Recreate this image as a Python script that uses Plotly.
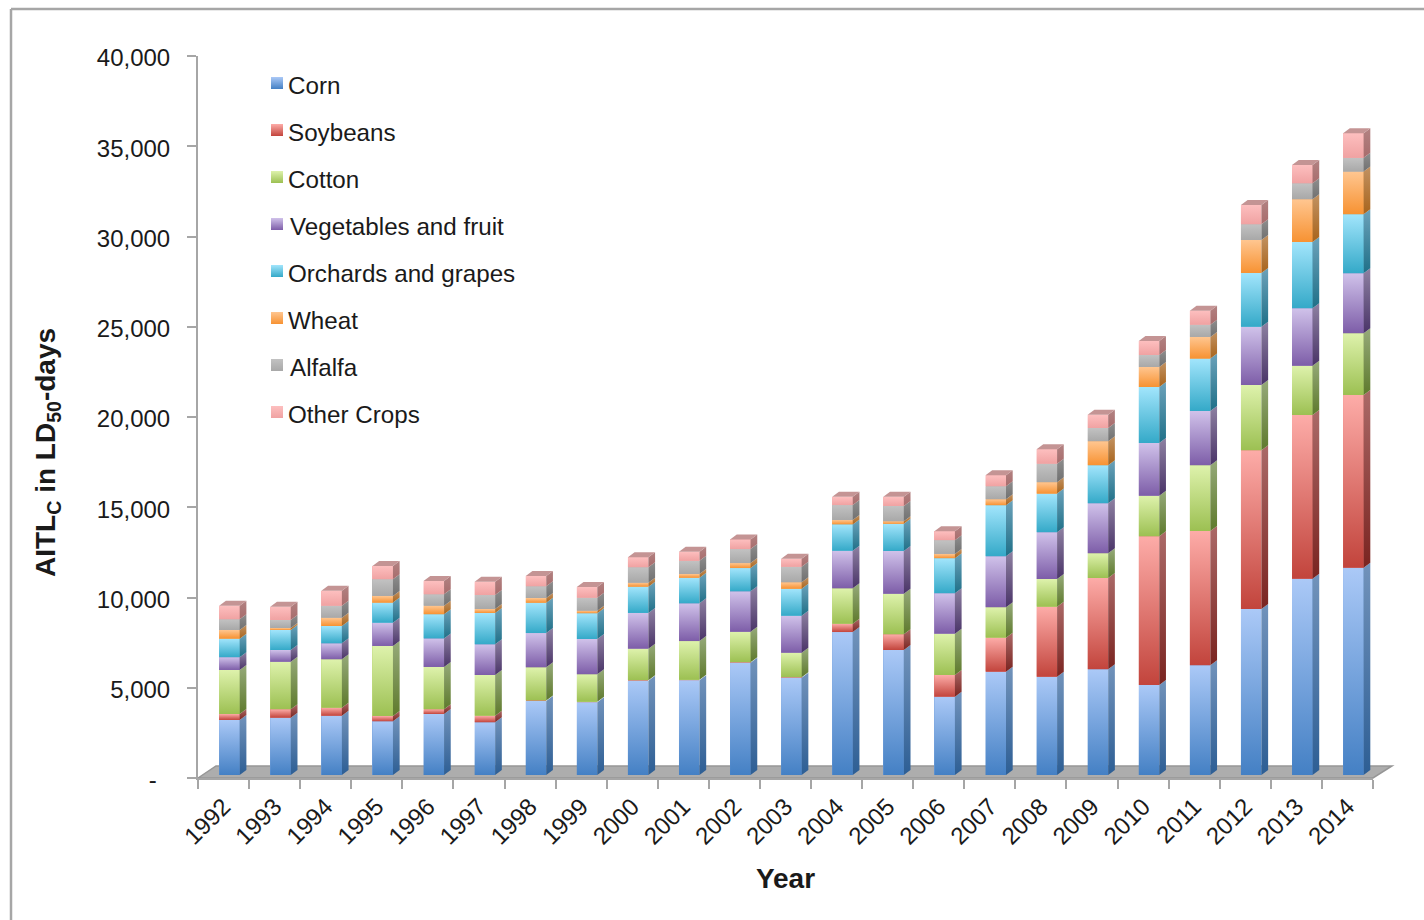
import plotly.graph_objects as go

years = [str(y) for y in range(1992, 2015)]
corn = [3050, 3175, 3285, 2975, 3380, 2920, 4100, 4030, 5225, 5245, 6220, 5390, 7920, 6925, 4340, 5725, 5445, 5855, 4985, 6080, 9195, 10875, 11485]
soybeans = [330, 465, 445, 295, 260, 365, 30, 30, 30, 30, 30, 30, 460, 870, 1200, 1885, 3880, 5060, 8240, 7440, 8790, 9070, 9570]
cotton = [2440, 2635, 2680, 3880, 2345, 2255, 1835, 1520, 1745, 2145, 1685, 1355, 1960, 2250, 2290, 1685, 1535, 1370, 2250, 3640, 3620, 2730, 3420]
vegetables = [705, 650, 885, 1290, 1580, 1700, 1900, 1955, 1980, 2090, 2240, 2050, 2085, 2365, 2240, 2825, 2590, 2770, 2920, 3010, 3230, 3180, 3325]
orchards = [1030, 1110, 960, 1110, 1340, 1735, 1680, 1425, 1455, 1420, 1290, 1495, 1460, 1510, 1940, 2825, 2140, 2105, 3100, 2900, 2975, 3675, 3270]
wheat = [480, 110, 460, 370, 475, 220, 260, 145, 220, 205, 275, 355, 240, 135, 240, 330, 630, 1330, 1110, 1200, 1830, 2365, 2360]
alfalfa = [590, 445, 665, 925, 630, 775, 650, 720, 855, 735, 775, 865, 830, 850, 760, 720, 1030, 735, 665, 680, 870, 885, 760]
other = [755, 735, 830, 735, 735, 735, 570, 590, 555, 500, 535, 445, 460, 515, 500, 610, 800, 735, 775, 775, 1070, 1015, 1370]

names = ["Corn", "Soybeans", "Cotton", "Vegetables and fruit", "Orchards and grapes", "Wheat", "Alfalfa", "Other Crops"]
series = [corn, soybeans, cotton, vegetables, orchards, wheat, alfalfa, other]
y_ticks = [0, 5000, 10000, 15000, 20000, 25000, 30000, 35000, 40000]
y_labels = ["-\u00a0\u00a0", "5,000", "10,000", "15,000", "20,000", "25,000", "30,000", "35,000", "40,000"]

# face colours: (top, bottom)
front = [("#abc9f7", "#4480c4"), ("#fdaca8", "#c2443c"), ("#def2ac", "#9cc052"), ("#d0c2ea", "#7d5da8"),
         ("#a2e5fc", "#34a9c8"), ("#ffc690", "#f79232"), ("#c2c2c2", "#a8a8a8"), ("#fdbfbf", "#f0a2a2")]
side = [("#7293bb", "#2d5e94"), ("#ab6a68", "#7a2420"), ("#96aa7a", "#5e7a2c"), ("#8e81a2", "#4a3468"),
        ("#6ca2ba", "#1f7088"), ("#c29262", "#a8641c"), ("#8e8e8e", "#707070"), ("#b28282", "#a86c6c")]
mid = ["#7aa4dc", "#e07a74", "#c0da80", "#a890c8", "#6cc8e2", "#fbac60", "#b4b4b4", "#f6b0b0"]

# layout in pixels
W, H = 1424, 920
L, R, T, B = 198, 1373, 56, 778
PER_PX = 40000 / (B - T)
BASE_PX = 3            # bars stand on the floor, 3 px above the axis line
y2_lo = -BASE_PX * PER_PX
y2_hi = 40000 + y2_lo
UNIT = (R - L) / 23
BAR_W = 20.5 / UNIT
BAR_OFF = 5.9 / UNIT   # front face is shifted right of the category centre
DX = 6.7 / UNIT
DY = 5 * PER_PX


def px(x):
    return (x - L) / (R - L)


def py(y):
    return (B - y) / (B - T)


def x2(x):
    return (x - L) / UNIT - 0.5


def y2(y):
    return (B - y) * PER_PX + y2_lo


def grad(top, bottom):
    return dict(type="vertical", colorscale=[[0, bottom], [1, top]])


fig = go.Figure()

# bars
for name, vals, col in zip(names, series, mid):
    fig.add_trace(go.Bar(x=years, y=vals, name=name, marker=dict(color=col, line=dict(width=0)),
                         width=BAR_W, offset=BAR_OFF - BAR_W / 2, xaxis="x", yaxis="y2", showlegend=False))

# the left axis shows the totals scale: this invisible trace keeps it on the page
totals = [sum(v) for v in zip(*series)]
fig.add_trace(go.Scatter(x=years, y=totals, mode="markers", marker=dict(opacity=0), xaxis="x", yaxis="y",
                         hoverinfo="skip", showlegend=False))


def face(xs, ys, top, bottom):
    fig.add_trace(go.Scatter(x=xs, y=ys, mode="lines", line=dict(width=0), fill="toself",
                             fillcolor=bottom, fillgradient=grad(top, bottom), xaxis="x2", yaxis="y2",
                             hoverinfo="skip", showlegend=False, cliponaxis=False))


# gradient front, side and top faces derived from the series values
for i in range(len(years)):
    xl = i + BAR_OFF - BAR_W / 2
    xr = xl + BAR_W
    base = 0
    for s, vals in enumerate(series):
        t = base + vals[i]
        face([xl, xr, xr, xl, xl], [base, base, t, t, base], *front[s])
        face([xr, xr + DX, xr + DX, xr, xr], [base, base + DY, t + DY, t, base], *side[s])
        base = t
    fig.add_trace(go.Scatter(x=[xl, xr, xr + DX, xl + DX, xl], y=[base, base, base + DY, base + DY, base],
                             mode="lines", line=dict(width=0), fill="toself", fillcolor="#c49494",
                             xaxis="x2", yaxis="y2", hoverinfo="skip", showlegend=False, cliponaxis=False))

# legend
legend_top = [77, 124, 171, 218, 265, 312, 359, 406]
legend_text_y = [85.6, 132.6, 179.6, 226.6, 273.6, 320.6, 367.6, 414.6]
legend_text_x = [286, 286, 286, 287.5, 286, 286, 287.5, 286]
annotations = []
for s, name in enumerate(names):
    a, b = 271, 283
    t, u = legend_top[s], legend_top[s] + 12
    face([x2(a), x2(b), x2(b), x2(a), x2(a)], [y2(u), y2(u), y2(t), y2(t), y2(u)], *front[s])
    annotations.append(dict(text=name, x=px(legend_text_x[s]), y=py(legend_text_y[s]), xref="paper", yref="paper",
                            xanchor="left", yanchor="middle", showarrow=False,
                            font=dict(size=24.2, color="#1a1a1a")))

annotations.append(dict(text="<b>AITL<sub>C</sub> in LD<sub>50</sub>-days</b>", x=px(47), y=py(453),
                        xref="paper", yref="paper", xanchor="center", yanchor="middle", showarrow=False,
                        textangle=-90, font=dict(size=28, color="#1a1a1a")))

GRAY = "#a6a6a6"
shapes = [
    # frame
    dict(type="line", xref="paper", yref="paper", x0=px(11), x1=px(11), y0=py(9), y1=py(920), line=dict(color=GRAY, width=2.5)),
    dict(type="line", xref="paper", yref="paper", x0=px(11), x1=px(1424), y0=py(9), y1=py(9), line=dict(color=GRAY, width=2.5)),
    # floor
    dict(type="path", xref="paper", yref="paper", layer="below",
         path=f"M{px(198)},{py(778)} L{px(216)},{py(766)} L{px(1392)},{py(766)} L{px(1373)},{py(778)} Z",
         fillcolor="#adadad", line=dict(color="#969696", width=1.5)),
]

fig.update_layout(
    width=W, height=H, margin=dict(l=L, r=W - R, t=T, b=H - B, autoexpand=False),
    paper_bgcolor="white", plot_bgcolor="rgba(0,0,0,0)", barmode="stack", bargap=0,
    font=dict(family="Liberation Sans, Arial, sans-serif", color="#1a1a1a"),
    showlegend=False, annotations=annotations, shapes=shapes,
    xaxis=dict(type="category", categoryorder="array", categoryarray=years, range=[-0.5, 22.5],
               tickson="boundaries", ticks="outside", ticklen=9, tickcolor=GRAY, tickwidth=2,
               linecolor=GRAY, linewidth=2, showline=True, showgrid=False, zeroline=False,
               tickangle=-45, tickfont=dict(size=24, color="#1a1a1a"), ticklabelstandoff=3,
               title=dict(text="<b>Year</b>", font=dict(size=28, color="#1a1a1a"), standoff=20)),
    yaxis=dict(range=[0, 40000], tickvals=y_ticks, ticktext=y_labels, ticks="outside", ticklen=9,
               tickcolor=GRAY, tickwidth=2, linecolor=GRAY, linewidth=2, showline=True, showgrid=False,
               zeroline=False, tickfont=dict(size=24, color="#1a1a1a"), ticklabelstandoff=12, ticklabelshift=2),
    yaxis2=dict(range=[y2_lo, y2_hi], overlaying="y", anchor="x", visible=False, fixedrange=True),
    xaxis2=dict(range=[-0.5, 22.5], overlaying="x", anchor="y2", visible=False, fixedrange=True),
)

fig.write_html("out.html", config=dict(displayModeBar=False),
               post_script="document.body.style.margin='0';")
